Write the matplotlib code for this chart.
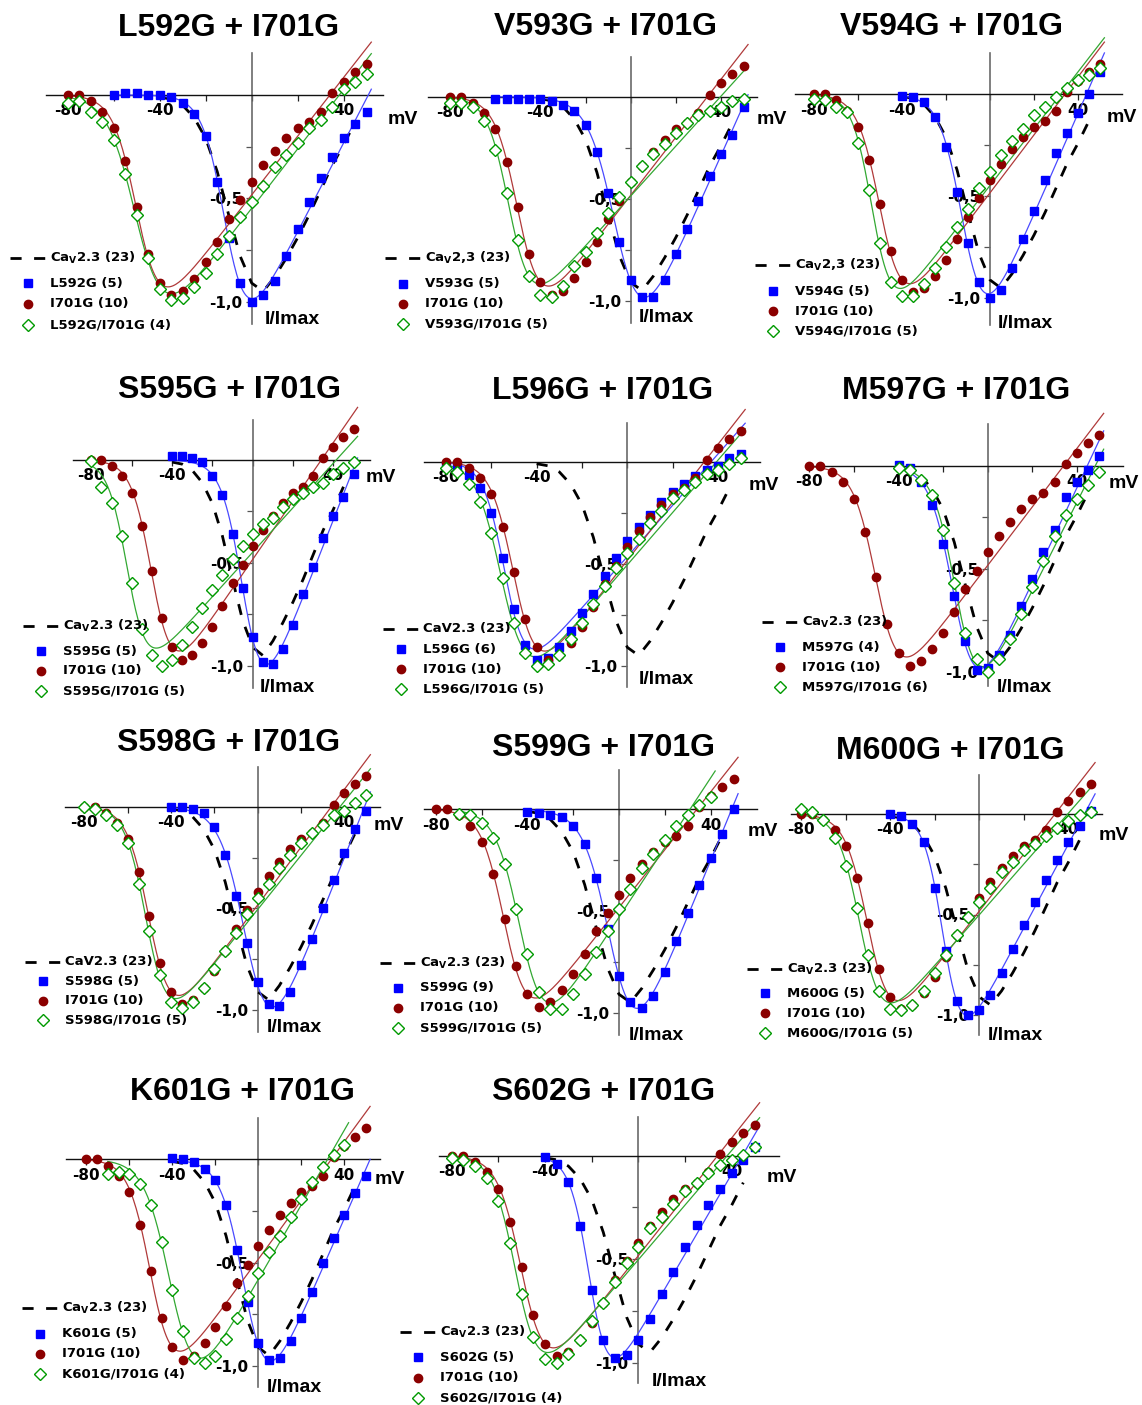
import numpy as np
import matplotlib
matplotlib.use('Agg')
import matplotlib.pyplot as plt
from matplotlib.lines import Line2D

plt.rcParams['mathtext.default'] = 'bf'
W, H = 1142, 1405

# ---------------- data ----------------
V_MV = [-80, -75, -70, -65, -60, -55, -50, -45, -40, -35, -30, -25, -20, -15,
        -10, -5, 0, 5, 10, 15, 20, 25, 30, 35, 40, 45, 50]

CAV23_V = [-40, -35, -30, -25, -20, -15, -10, -5, 0, 5, 10, 15, 20, 25, 30, 35, 40, 45]
CAV23_I = [-0.01, -0.02, -0.05, -0.11, -0.21, -0.37, -0.58, -0.78, -0.91, -0.95,
           -0.88, -0.79, -0.69, -0.58, -0.46, -0.34, -0.24, -0.13]

I701G = [0.0, 0.0, -0.03, -0.08, -0.16, -0.32, -0.54, -0.77, -0.91, -0.97, -0.95,
         -0.89, -0.81, -0.71, -0.60, -0.51, -0.42, -0.34, -0.27, -0.21, -0.16,
         -0.13, -0.08, 0.01, 0.065, 0.11, 0.15]

MUTANTS = ['L592G', 'V593G', 'V594G', 'S595G', 'L596G', 'M597G',
           'S598G', 'S599G', 'M600G', 'K601G', 'S602G']
MUT_N = [5, 5, 5, 5, 6, 4, 5, 9, 5, 5, 5]
DBL_N = [4, 5, 5, 5, 5, 6, 5, 5, 5, 4, 4]
MUT_START = [-60, -60, -40, -40, -80, -40, -40, -40, -40, -40, -40]
DBL_START = [-80, -80, -80, -80, -80, -40, -80, -70, -80, -70, -80]
CAV_LABELS = ['Ca$_V$2.3 (23)', 'Ca$_V$2,3 (23)', 'Ca$_V$2,3 (23)', 'Ca$_V$2.3 (23)',
              'CaV2.3 (23)', 'Ca$_V$2.3 (23)', 'CaV2.3 (23)', 'Ca$_V$2.3 (23)',
              'Ca$_V$2.3 (23)', 'Ca$_V$2.3 (23)', 'Ca$_V$2.3 (23)']

L592G = [0.0, 0.01, 0.01, 0.0, 0.0, -0.01, -0.04, -0.09, -0.20, -0.42, -0.69, -0.91,
         -1.0, -0.97, -0.90, -0.78, -0.65, -0.52, -0.40, -0.30, -0.21, -0.14, -0.08]
L592G_I701G = [-0.04, -0.03, -0.08, -0.13, -0.22, -0.38, -0.58, -0.79, -0.94, -0.99,
               -0.98, -0.93, -0.86, -0.77, -0.68, -0.59, -0.52, -0.44, -0.35, -0.29,
               -0.23, -0.16, -0.12, -0.06, 0.03, 0.065, 0.10]
V593G = [-0.01, -0.01, -0.01, -0.01, -0.01, -0.02, -0.04, -0.07, -0.14, -0.27, -0.47,
         -0.71, -0.90, -0.98, -0.98, -0.90, -0.77, -0.65, -0.51, -0.39, -0.28, -0.19, -0.05]
V593G_I701G = [-0.03, -0.03, -0.05, -0.12, -0.26, -0.47, -0.70, -0.88, -0.97, -0.98,
               -0.93, -0.83, -0.76, -0.67, -0.57, -0.49, -0.42, -0.34, -0.28, -0.23,
               -0.18, -0.13, -0.09, -0.07, -0.05, -0.02, -0.01]
V594G = [-0.01, -0.015, -0.04, -0.11, -0.26, -0.48, -0.73, -0.92, -1.0, -0.96, -0.85,
         -0.71, -0.57, -0.42, -0.29, -0.19, -0.09, 0.0, 0.11]
V594G_I701G = [-0.025, -0.03, -0.06, -0.085, -0.24, -0.47, -0.73, -0.92, -0.99, -0.99,
               -0.93, -0.85, -0.75, -0.65, -0.56, -0.46, -0.38, -0.30, -0.23, -0.17,
               -0.10, -0.06, -0.015, 0.03, 0.07, 0.095, 0.13]
S595G = [0.02, 0.02, 0.01, -0.01, -0.08, -0.17, -0.36, -0.62, -0.86, -0.98, -0.99,
         -0.92, -0.80, -0.65, -0.52, -0.38, -0.27, -0.18, -0.07]
S595G_I701G = [-0.005, -0.13, -0.21, -0.37, -0.60, -0.82, -0.95, -1.0, -0.97, -0.90,
               -0.81, -0.72, -0.63, -0.56, -0.48, -0.42, -0.36, -0.31, -0.28, -0.23,
               -0.19, -0.16, -0.13, -0.11, -0.07, -0.04, -0.01]
L596G = [-0.02, -0.03, -0.065, -0.13, -0.25, -0.47, -0.72, -0.90, -0.97, -0.96, -0.91,
         -0.83, -0.74, -0.65, -0.56, -0.47, -0.39, -0.32, -0.26, -0.20, -0.15, -0.11,
         -0.07, -0.04, -0.02, 0.02, 0.04]
L596G_I701G = [-0.03, -0.05, -0.11, -0.20, -0.35, -0.57, -0.79, -0.94, -1.0, -0.99,
               -0.95, -0.87, -0.79, -0.70, -0.61, -0.52, -0.45, -0.38, -0.30, -0.24,
               -0.18, -0.14, -0.10, -0.06, -0.04, -0.01, 0.02]
M597G = [0.005, -0.01, -0.08, -0.19, -0.38, -0.63, -0.85, -0.99, -0.98, -0.92, -0.82,
         -0.68, -0.55, -0.42, -0.31, -0.15, -0.08, -0.02, 0.05]
M597G_I701G = [-0.01, -0.02, -0.07, -0.14, -0.31, -0.57, -0.81, -0.94, -1.0, -0.94,
               -0.84, -0.72, -0.59, -0.46, -0.34, -0.24, -0.16, -0.09, -0.03]
S598G = [0.0, 0.0, -0.01, -0.03, -0.10, -0.24, -0.44, -0.67, -0.86, -0.97, -0.98,
         -0.91, -0.78, -0.65, -0.50, -0.36, -0.23, -0.11, -0.02]
S598G_I701G = [0.0, -0.01, -0.04, -0.09, -0.18, -0.38, -0.61, -0.83, -0.96, -0.99,
               -0.96, -0.89, -0.80, -0.71, -0.62, -0.53, -0.45, -0.38, -0.30, -0.24,
               -0.18, -0.13, -0.09, -0.04, -0.02, 0.02, 0.06]
S599G = [-0.015, -0.02, -0.03, -0.04, -0.08, -0.17, -0.34, -0.59, -0.82, -0.95, -0.975,
         -0.92, -0.80, -0.65, -0.51, -0.37, -0.24, -0.12, 0.0]
S599G_I701G = [-0.025, -0.03, -0.065, -0.14, -0.27, -0.49, -0.71, -0.90, -0.98, -0.98,
               -0.91, -0.81, -0.70, -0.60, -0.49, -0.39, -0.29, -0.22, -0.15, -0.08,
               -0.03, 0.02, 0.06]
M600G = [0.0, -0.01, -0.05, -0.14, -0.37, -0.68, -0.93, -1.0, -0.975, -0.90, -0.79,
         -0.67, -0.55, -0.44, -0.33, -0.23, -0.14, -0.06, 0.015]
M600G_I701G = [0.025, 0.01, -0.03, -0.12, -0.26, -0.47, -0.70, -0.88, -0.97, -0.975,
               -0.95, -0.88, -0.79, -0.70, -0.60, -0.51, -0.44, -0.37, -0.29, -0.24,
               -0.18, -0.15, -0.11, -0.07, -0.035, -0.005, 0.01]
K601G = [0.005, 0.0, -0.015, -0.045, -0.10, -0.22, -0.44, -0.69, -0.89, -0.97, -0.96,
         -0.88, -0.77, -0.64, -0.50, -0.38, -0.27, -0.165, -0.08]
K601G_I701G = [-0.07, -0.06, -0.07, -0.12, -0.22, -0.40, -0.63, -0.83, -0.96, -0.985,
               -0.95, -0.87, -0.77, -0.66, -0.55, -0.45, -0.37, -0.28, -0.19, -0.11,
               -0.035, 0.02, 0.07]
S602G = [-0.005, -0.04, -0.125, -0.34, -0.65, -0.89, -0.975, -0.965, -0.89, -0.79,
         -0.67, -0.56, -0.44, -0.335, -0.24, -0.16, -0.085, -0.02, 0.04]
S602G_I701G = [-0.01, -0.02, -0.05, -0.11, -0.22, -0.42, -0.67, -0.875, -0.98, -1.0,
               -0.96, -0.89, -0.80, -0.71, -0.61, -0.52, -0.44, -0.35, -0.295, -0.235,
               -0.17, -0.13, -0.085, -0.045, -0.02, 0.003, 0.04]

MUT_DATA = [L592G, V593G, V594G, S595G, L596G, M597G, S598G, S599G, M600G, K601G, S602G]
DBL_DATA = [L592G_I701G, V593G_I701G, V594G_I701G, S595G_I701G, L596G_I701G,
            M597G_I701G, S598G_I701G, S599G_I701G, M600G_I701G, K601G_I701G, S602G_I701G]

# ---------------- layout (pixels) ----------------
# origin x, origin y, px per mV, px per unit, x-axis left, right, y-axis top, bottom
GEOM = [
    (251.7, 95.0, 2.30, 206.7, 46, 383, 53, 324),
    (630.7, 96.7, 2.257, 204.0, 428, 757, 57, 323),
    (990.0, 94.3, 2.20, 204.0, 795, 1122, 53, 325),
    (252.7, 460.0, 2.017, 205.7, 73, 370, 420, 688),
    (627.3, 461.7, 2.267, 204.0, 424, 760, 423, 687),
    (987.7, 466.0, 2.23, 205.7, 808, 1123, 424, 686),
    (257.7, 806.7, 2.167, 203.3, 65, 380, 767, 1032),
    (619.0, 809.3, 2.29, 203.3, 424, 757, 770, 1035),
    (979.3, 814.0, 2.227, 201.0, 791, 1102, 775, 1035),
    (258.3, 1159.3, 2.15, 206.7, 66, 380, 1118, 1387),
    (638.3, 1155.7, 2.333, 207.0, 439, 779, 1117, 1383),
]
TITLE_POS = [(229, 28), (606, 27), (951, 27), (230, 390), (603, 391), (956, 391),
             (229, 743), (604, 748), (950, 751), (242, 1092), (604, 1092)]
MV_POS = [(403, 120), (772, 120), (1122, 117), (381, 478), (764, 485), (1124, 484),
          (389, 826), (763, 832), (1114, 835), (390, 1180), (782, 1178)]
IMAX_POS = [(292, 320), (666, 318), (1025, 323), (287, 688), (666, 680), (1024, 688),
            (294, 1028), (656, 1035), (1015, 1035), (294, 1387), (679, 1382)]
LEG_POS = [(10, 258, 25, 21), (385, 258, 26, 20), (755, 265, 26, 20), (23, 626, 25, 20),
           (383, 629, 20, 20), (762, 622, 25, 20), (25, 962, 19, 19.5), (380, 963, 25, 20),
           (747, 969, 24, 20), (22, 1308, 26, 20), (400, 1332, 25, 20.5)]

BLUE = '#0000FF'
RED = '#8B0000'
GREEN = '#009A00'
BLUE_LINE = '#4A4AFF'
RED_LINE = '#B03A3A'
GREEN_LINE = '#33A833'


def fit_boltz(v, i):
    v = np.asarray(v, float)
    i = np.asarray(i, float)
    yy = (i * i).sum()

    def search(v50s, ks, ers):
        best = (np.inf, None)
        K = ks[:, None, None]
        E = ers[None, :, None]
        Vv = v[None, None, :]
        for v50 in v50s:
            b = 1.0 / (1.0 + np.exp((v50 - Vv) / K))
            x = (Vv - E) * b
            sxy = (x * i).sum(-1)
            sxx = (x * x).sum(-1)
            sse = yy - sxy ** 2 / sxx
            idx = np.unravel_index(np.argmin(sse), sse.shape)
            if sse[idx] < best[0]:
                best = (sse[idx], (v50, ks[idx[0]], ers[idx[1]], sxy[idx] / sxx[idx]))
        return best[1]

    p = search(np.arange(-70, 21, 1.0), np.arange(2, 15.1, 0.5), np.arange(10, 91, 1.0))
    p = search(np.arange(p[0] - 1, p[0] + 1.01, 0.1),
               np.arange(max(p[1] - 0.5, 1.0), p[1] + 0.51, 0.05),
               np.arange(p[2] - 1, p[2] + 1.01, 0.1))
    return p


def fit_curve(v, i):
    v50, k, er, g = fit_boltz(v, i)
    vv = np.linspace(v[0], v[-1] + 2, 200)
    return vv, g * (vv - er) / (1.0 + np.exp((v50 - vv) / k))


def volts(start, n):
    i0 = V_MV.index(start)
    return V_MV[i0:i0 + n]


fig = plt.figure(figsize=(W / 100, H / 100), dpi=100)
fig.patch.set_facecolor('white')

v_red_fit, i_red_fit = fit_curve(V_MV, I701G)

for p in range(11):
    ox, oy, sx, sy, xl, xr, yt, yb = GEOM[p]
    ax = fig.add_axes([xl / W, 1 - yb / H, (xr - xl) / W, (yb - yt) / H])
    ax.set_xlim((xl - ox) / sx, (xr - ox) / sx)
    ax.set_ylim(-(yb - oy) / sy, -(yt - oy) / sy)
    ax.patch.set_visible(False)
    for s in ['top', 'right']:
        ax.spines[s].set_visible(False)
    ax.spines['left'].set_position(('data', 0))
    ax.spines['bottom'].set_position(('data', 0))
    ax.spines['bottom'].set_color('#111111')
    ax.spines['bottom'].set_linewidth(1.0)
    ax.spines['left'].set_color('#6a6a6a')
    ax.spines['left'].set_linewidth(1.2)
    ax.set_xticks([-80, -60, -40, -20, 0, 20, 40],
                  labels=['-80', '', '-40', '', '', '', '40'],
                  fontweight='bold', fontsize=11, family='DejaVu Sans')
    ax.set_yticks([-1.0, -0.75, -0.5, -0.25],
                  labels=['-1,0', '', '-0,5', ''],
                  fontweight='bold', fontsize=11, family='DejaVu Sans')
    ax.tick_params(axis='x', direction='out', length=4, width=0.9, pad=2, colors='#222222',
                   labelcolor='black')
    ax.tick_params(axis='y', direction='out', length=4, width=0.9, pad=3, colors='#555555',
                   labelcolor='black')

    mv = MUT_DATA[p]
    dv = DBL_DATA[p]
    v_m = volts(MUT_START[p], len(mv))
    v_d = volts(DBL_START[p], len(dv))

    # dashed wild-type curve
    ax.plot(CAV23_V, CAV23_I, color='black', lw=2.0, ls=(0, (4, 4.5)), zorder=3,
            clip_on=False, solid_capstyle='butt', dash_capstyle='butt')
    # fit lines
    fv, fi = fit_curve(v_m, mv)
    ax.plot(fv, fi, color=BLUE_LINE, lw=0.9, zorder=3.2, clip_on=False)
    ax.plot(v_red_fit, i_red_fit, color=RED_LINE, lw=0.9, zorder=3.2, clip_on=False)
    fv, fi = fit_curve(v_d, dv)
    ax.plot(fv, fi, color=GREEN_LINE, lw=0.9, zorder=3.2, clip_on=False)
    # data points
    ax.plot(v_m, mv, ls='none', marker='s', ms=5.2, color=BLUE, mec=BLUE, zorder=4,
            clip_on=False)
    ax.plot(V_MV, I701G, ls='none', marker='o', ms=6.0, color=RED, mec=RED, zorder=4.1,
            clip_on=False)
    ax.plot(v_d, dv, ls='none', marker='D', ms=6.0, mfc='white', mec=GREEN, mew=1.0,
            zorder=4.2, clip_on=False)

    # title and axis labels
    tx, ty = TITLE_POS[p]
    fig.text(tx / W, 1 - ty / H, f'{MUTANTS[p]} + I701G', ha='center', va='center',
             fontsize=23, fontweight='bold', family='Liberation Sans')
    mx, my = MV_POS[p]
    fig.text(mx / W, 1 - my / H, 'mV', ha='center', va='center', fontsize=14,
             fontweight='bold', family='Liberation Sans')
    ix, iy = IMAX_POS[p]
    fig.text(ix / W, 1 - iy / H, 'I/Imax', ha='center', va='center', fontsize=14,
             fontweight='bold', family='Liberation Sans')

    # legend
    lx, ly, d1, d = LEG_POS[p]
    rows = [ly, ly + d1, ly + d1 + d, ly + d1 + 2 * d]
    labels = [CAV_LABELS[p], f'{MUTANTS[p]} ({MUT_N[p]})', 'I701G (10)',
              f'{MUTANTS[p]}/I701G ({DBL_N[p]})']
    fig.add_artist(Line2D([lx / W, (lx + 36) / W], [1 - rows[0] / H] * 2, color='black',
                          lw=2.0, ls=(0, (4, 4.5)), transform=fig.transFigure))
    fig.add_artist(Line2D([(lx + 18) / W], [1 - rows[1] / H], ls='none', marker='s', ms=5.2,
                          color=BLUE, transform=fig.transFigure))
    fig.add_artist(Line2D([(lx + 18) / W], [1 - rows[2] / H], ls='none', marker='o', ms=6.0,
                          color=RED, transform=fig.transFigure))
    fig.add_artist(Line2D([(lx + 18) / W], [1 - rows[3] / H], ls='none', marker='D', ms=6.0,
                          mfc='white', mec=GREEN, mew=1.0, transform=fig.transFigure))
    for r, lab in zip(rows, labels):
        fig.text((lx + 40) / W, 1 - r / H, lab, ha='left', va='center', fontsize=9.5,
                 fontweight='bold', family='DejaVu Sans')

fig.savefig('out.png', dpi=100, facecolor='white')
